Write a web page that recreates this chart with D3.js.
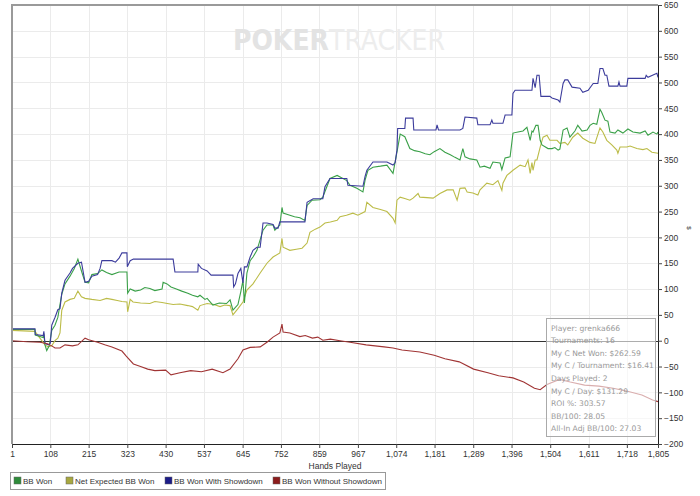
<!DOCTYPE html>
<html>
<head>
<meta charset="utf-8">
<script src="https://cdn.jsdelivr.net/npm/d3@7"></script>
<style>
  body { margin: 0; background: #fff; }
  svg { display: block; font-family: "Liberation Sans", Arial, sans-serif; }
</style>
</head>
<body>
<div class="chart"></div>
<script>
// tick values
var xTicks = [1, 108, 215, 323, 430, 537, 645, 752, 859, 967, 1074, 1181, 1289, 1396, 1504, 1611, 1718, 1805];
var yTicks = [-200, -150, -100, -50, 0, 50, 100, 150, 200, 250, 300, 350, 400, 450, 500, 550, 600, 650];

// series: [hand, value]
var bbWon = [[1,22],[65,22],[66,11],[79,8],[88,6],[90,14],[93,-8],[98,-19],[105,-10],[112,20],[121,30],[129,45],[140,90],[149,110],[163,125],[175,140],[185,158],[195,135],[205,113],[215,112],[224,128],[240,130],[252,137],[265,132],[280,128],[300,133],[322,133],[324,92],[331,100],[345,96],[360,98],[372,103],[386,101],[400,97],[420,100],[423,113],[434,110],[445,104],[460,100],[475,96],[492,92],[505,88],[520,85],[526,88],[540,80],[546,82],[562,69],[580,73],[600,72],[610,79],[618,59],[632,70],[640,95],[646,117],[650,73],[657,131],[666,155],[674,162],[685,175],[702,214],[713,224],[730,224],[735,214],[749,224],[755,258],[758,247],[777,243],[790,240],[805,238],[819,233],[825,262],[839,272],[861,273],[869,278],[889,314],[909,320],[920,316],[936,310],[945,301],[964,295],[981,288],[987,311],[995,330],[1009,336],[1030,338],[1048,340],[1065,324],[1076,365],[1085,400],[1098,395],[1112,372],[1125,368],[1140,366],[1155,362],[1168,360],[1180,366],[1196,372],[1210,365],[1225,360],[1238,355],[1252,350],[1260,372],[1266,356],[1280,352],[1299,350],[1308,336],[1320,338],[1336,334],[1344,346],[1364,344],[1369,331],[1378,354],[1392,356],[1400,402],[1414,404],[1428,406],[1439,413],[1448,388],[1453,406],[1456,404],[1464,417],[1470,417],[1476,388],[1481,379],[1498,372],[1509,372],[1517,374],[1526,369],[1531,371],[1540,408],[1551,412],[1559,394],[1573,406],[1581,417],[1593,406],[1607,408],[1615,417],[1624,421],[1634,419],[1643,448],[1648,442],[1657,427],[1665,425],[1671,404],[1685,402],[1693,408],[1707,402],[1721,410],[1735,404],[1755,402],[1769,406],[1777,398],[1791,404],[1802,400],[1805,404]];

var netExpected = [[1,20],[65,18],[79,5],[93,-8],[102,-12],[112,-10],[121,0],[129,5],[135,15],[140,59],[149,75],[163,80],[175,82],[185,96],[195,85],[205,82],[224,80],[247,78],[265,82],[280,80],[295,78],[308,76],[322,75],[324,56],[331,80],[339,75],[360,73],[386,72],[400,76],[420,74],[435,72],[451,70],[470,71],[492,68],[505,66],[520,59],[526,68],[546,72],[565,70],[582,66],[595,69],[610,68],[618,50],[632,62],[646,75],[657,98],[674,110],[694,131],[713,150],[730,162],[749,170],[755,198],[758,181],[777,175],[795,177],[811,179],[825,189],[833,210],[848,216],[861,220],[875,228],[890,230],[909,233],[917,240],[935,243],[953,247],[967,243],[987,250],[992,268],[1009,258],[1030,254],[1048,250],[1065,237],[1071,228],[1076,272],[1085,278],[1100,275],[1112,272],[1121,276],[1135,285],[1140,278],[1160,277],[1177,276],[1196,285],[1216,292],[1233,292],[1244,272],[1252,295],[1266,296],[1272,288],[1288,286],[1302,282],[1308,292],[1327,305],[1344,302],[1358,310],[1369,291],[1372,305],[1383,320],[1400,330],[1420,340],[1434,337],[1442,350],[1448,324],[1453,345],[1456,330],[1462,350],[1467,350],[1476,375],[1484,394],[1495,398],[1503,388],[1523,388],[1531,382],[1545,384],[1553,379],[1567,394],[1581,402],[1595,392],[1615,384],[1629,382],[1643,412],[1651,404],[1662,388],[1676,379],[1690,369],[1693,363],[1699,375],[1718,375],[1727,377],[1746,372],[1763,370],[1774,372],[1788,365],[1805,363]];

var withShowdown = [[1,23],[65,23],[66,12],[88,10],[90,18],[93,-5],[102,-8],[108,-5],[112,30],[118,40],[121,45],[129,60],[135,62],[140,92],[149,117],[163,131],[170,140],[185,150],[195,152],[205,113],[215,115],[224,125],[240,128],[247,140],[252,155],[280,155],[290,152],[300,160],[308,170],[322,170],[323,143],[331,155],[340,158],[451,158],[456,133],[520,133],[521,148],[530,140],[546,135],[557,127],[618,127],[620,104],[625,110],[632,130],[640,140],[646,112],[650,143],[657,143],[666,162],[674,175],[685,181],[694,181],[702,228],[713,228],[730,225],[735,218],[744,218],[749,230],[819,230],[825,268],[842,275],[869,275],[875,298],[889,314],[936,314],[939,301],[981,299],[987,318],[992,330],[1009,346],[1048,346],[1065,340],[1071,345],[1076,369],[1078,411],[1098,411],[1100,431],[1121,431],[1123,408],[1185,408],[1188,418],[1192,408],[1252,408],[1260,411],[1266,433],[1299,431],[1302,418],[1336,418],[1341,427],[1344,421],[1372,421],[1378,437],[1397,437],[1400,479],[1406,485],[1453,485],[1456,508],[1462,490],[1467,514],[1473,514],[1478,473],[1503,473],[1509,470],[1526,466],[1531,462],[1540,498],[1545,505],[1553,505],[1565,491],[1587,489],[1595,481],[1610,485],[1624,498],[1637,498],[1643,527],[1651,527],[1657,514],[1662,514],[1668,493],[1693,493],[1696,501],[1699,493],[1718,493],[1721,508],[1769,508],[1772,514],[1777,510],[1802,518],[1805,510]];

var withoutShowdown = [[1,0],[43,-2],[79,-3],[100,-6],[112,-10],[121,-14],[135,-14],[149,-8],[170,-10],[185,-8],[205,5],[215,2],[240,-3],[260,-8],[280,-12],[308,-20],[320,-30],[340,-45],[360,-50],[380,-55],[400,-58],[430,-57],[445,-66],[470,-62],[500,-58],[530,-60],[560,-55],[590,-62],[610,-55],[632,-35],[646,-18],[666,-13],[694,-12],[713,-3],[730,7],[749,15],[755,32],[758,17],[777,15],[805,8],[820,10],[840,5],[855,7],[869,1],[890,3],[917,0],[945,-3],[990,-8],[1040,-12],[1065,-14],[1090,-18],[1140,-22],[1180,-28],[1210,-35],[1250,-41],[1290,-55],[1330,-62],[1360,-68],[1400,-72],[1430,-80],[1460,-92],[1476,-95],[1495,-85],[1530,-75],[1560,-80],[1600,-86],[1640,-88],[1680,-92],[1720,-98],[1760,-105],[1790,-115],[1805,-118]];

var seriesNames = ['BB Won', 'Net Expected BB Won', 'BB Won With Showdown', 'BB Won Without Showdown'];
var lineColors = ['#3aa048', '#bcbc48', '#3c3c9c', '#a03434'];
var swatchColors = ['#2e8b3a', '#a8a840', '#1c1c88', '#8c1c1c'];

var stats = [
  'Player: grenka666',
  'Tournaments: 16',
  'My C Net Won: $262.59',
  'My C / Tournament: $16.41',
  'Days Played: 2',
  'My C / Day: $131.29',
  'ROI %: 303.57',
  'BB/100: 28.05',
  'All-In Adj BB/100: 27.03'
];

var margin = { top: 5, right: 42, bottom: 52, left: 12 };
var width = 700 - margin.left - margin.right;
var height = 496 - margin.top - margin.bottom;

var svgRoot = d3.select('.chart')
  .append('svg')
    .attr('width', 700)
    .attr('height', 496);

var svg = svgRoot.append('g')
    .attr('transform', 'translate(' + margin.left + ', ' + margin.top + ')');

var xScale = d3.scaleLinear()
  .domain([1, 1805])
  .range([0, width]);

var yScale = d3.scaleLinear()
  .domain([-200, 650])
  .range([height, 0]);

// grid
svg.append('g')
  .selectAll('line')
  .data(xTicks.slice(1, -1))
  .enter().append('line')
    .attr('x1', d => Math.round(xScale(d)) + 0.5)
    .attr('x2', d => Math.round(xScale(d)) + 0.5)
    .attr('y1', 0)
    .attr('y2', height)
    .style('stroke', '#ebebeb');
svg.append('g')
  .selectAll('line')
  .data(yTicks.slice(1, -1))
  .enter().append('line')
    .attr('x1', 0)
    .attr('x2', width)
    .attr('y1', d => Math.round(yScale(d)) + 0.5)
    .attr('y2', d => Math.round(yScale(d)) + 0.5)
    .style('stroke', '#ebebeb');

// watermark
var wm = svg.append('text')
  .attr('x', 221)
  .attr('y', 45)
  .style('font-family', '"DejaVu Sans Condensed", "DejaVu Sans", sans-serif')
  .style('font-size', '28px');
wm.append('tspan').text('POKER').style('font-weight', 'bold').style('fill', '#e3e3e3');
wm.append('tspan').text('TRACKER').style('fill', '#ededed');

// zero line
svg.append('line')
  .attr('x1', 0)
  .attr('x2', width)
  .attr('y1', Math.round(yScale(0)) + 0.5)
  .attr('y2', Math.round(yScale(0)) + 0.5)
  .style('stroke', '#333');

var line = d3.line()
  .x(d => xScale(d[0]))
  .y(d => yScale(d[1]));

var allSeries = [bbWon, netExpected, withShowdown, withoutShowdown];
[1, 0, 2, 3].forEach(function (i) {
  svg.append('path')
    .datum(allSeries[i])
    .attr('d', line)
    .style('fill', 'none')
    .style('stroke', lineColors[i])
    .style('stroke-width', 1.1);
});

// frame (top + left)
svg.append('path')
  .attr('d', 'M0,' + height + 'V0H' + width)
  .style('fill', 'none')
  .style('stroke', '#9a9a9a')
  .style('stroke-width', 2);

// axes
var yAxis = svg.append('g')
  .attr('transform', `translate(${width}, 0)`)
  .call(d3.axisRight(yScale).tickValues(yTicks).tickSize(4).tickPadding(2).tickFormat(d3.format('d')));
var xAxis = svg.append('g')
  .attr('transform', `translate(0, ${height})`)
  .call(d3.axisBottom(xScale).tickValues(xTicks).tickSize(4).tickPadding(3).tickFormat(d3.format(',')));
[yAxis, xAxis].forEach(function (a) {
  a.select('.domain').style('stroke', '#222');
  a.selectAll('.tick line').style('stroke', '#444');
  a.selectAll('text').style('font-size', '8.5px').style('fill', '#333')
    .style('font-family', '"Liberation Sans", Arial, sans-serif');
});

svgRoot.append('text')
  .attr('x', 335)
  .attr('y', 469)
  .attr('text-anchor', 'middle')
  .style('font-size', '8.5px')
  .style('fill', '#333')
  .text('Hands Played');

svgRoot.append('text')
  .attr('transform', 'translate(687, 228) rotate(90)')
  .attr('text-anchor', 'middle')
  .style('font-size', '6px')
  .style('fill', '#333')
  .text('$');

// stats box
var box = svgRoot.append('g').attr('transform', 'translate(546.5, 318.5)');
box.append('rect')
  .attr('width', 109)
  .attr('height', 118)
  .style('fill', '#fff')
  .style('fill-opacity', 0.6)
  .style('stroke', '#aaa');
box.selectAll('text')
  .data(stats)
  .enter().append('text')
    .attr('x', 4.5)
    .attr('y', (d, i) => 12 + i * 12.6)
    .style('font-family', '"DejaVu Sans", Verdana, sans-serif')
    .style('font-size', '7.6px')
    .style('fill', '#999')
    .text(d => d);

// legend
var legend = svgRoot.append('g');
legend.append('rect')
  .attr('x', 10.5)
  .attr('y', 472.5)
  .attr('width', 375)
  .attr('height', 17)
  .style('fill', '#fff')
  .style('stroke', '#999');
var legendX = [14, 66, 165, 273];
var items = legend.selectAll('g')
  .data(seriesNames)
  .enter().append('g')
    .attr('transform', (d, i) => 'translate(' + legendX[i] + ', 477)');
items.append('rect')
  .attr('width', 7)
  .attr('height', 7)
  .style('fill', (d, i) => swatchColors[i])
  .style('stroke', '#666')
  .style('stroke-width', 0.5);
items.append('text')
  .attr('x', 9)
  .attr('y', 7)
  .style('font-size', '8px')
  .style('fill', '#333')
  .text(d => d);
</script>
</body>
</html>
